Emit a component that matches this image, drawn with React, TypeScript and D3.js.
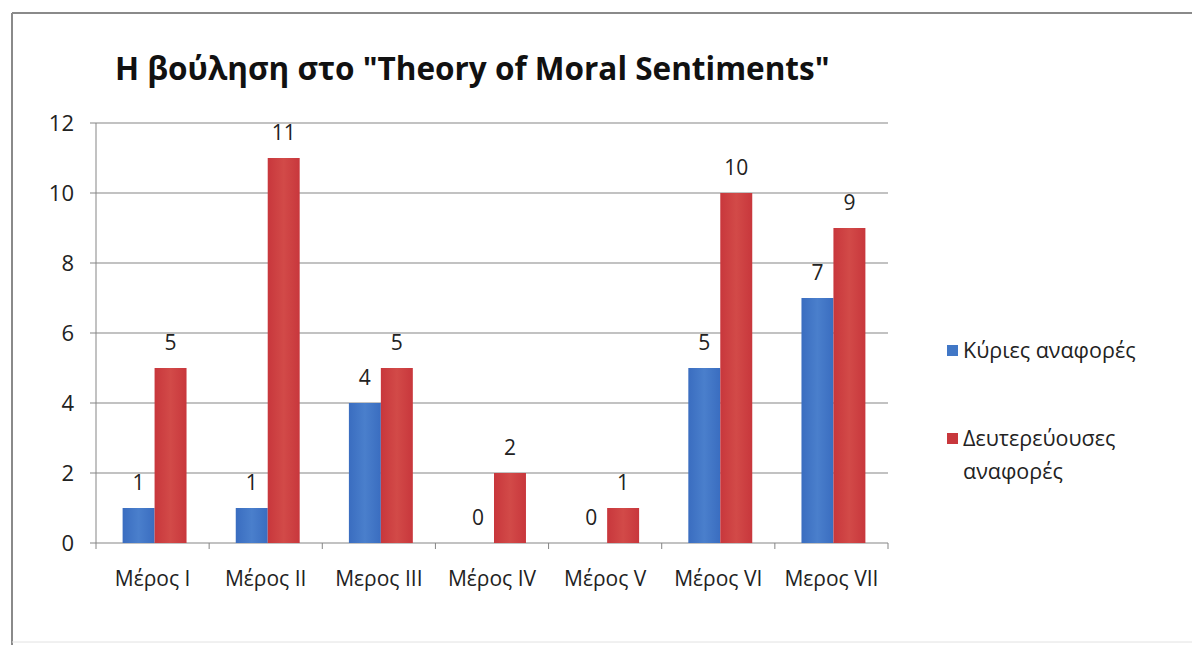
import React from "react";
import * as d3 from "d3";

const categories = ["Μέρος I", "Μέρος II", "Μερος III", "Μέρος IV", "Μέρος V", "Μέρος VI", "Μερος VII"];
const seriesNames = ["Κύριες αναφορές", "Δευτερεύουσες αναφορές"];
const primaryRefs = [1, 1, 4, 0, 0, 5, 7];
const secondaryRefs = [5, 11, 5, 2, 1, 10, 9];
const yTicks = [0, 2, 4, 6, 8, 10, 12];

const W = 1192;
const H = 645;
const plot = { left: 96, right: 888, top: 123, bottom: 543 };
const font = "'Open Sans', 'DejaVu Sans', sans-serif";

const App = () => {
  const x = d3.scaleBand().domain(categories).range([plot.left, plot.right]);
  const y = d3.scaleLinear().domain([0, 12]).range([plot.bottom, plot.top]);
  const inner = d3
    .scaleBand()
    .domain(["a", "b"])
    .range([2, x.bandwidth() + 2])
    .paddingInner(0)
    .paddingOuter(0.77);
  const bw = inner.bandwidth();

  const series = [
    { key: "a", values: primaryRefs, fill: "url(#gBlue)" },
    { key: "b", values: secondaryRefs, fill: "url(#gRed)" },
  ];

  return (
    <svg width={W} height={H} style={{ position: "absolute", left: 0, top: 0, background: "#fff" }}>
      <defs>
        <linearGradient id="gBlue" x1="0" x2="1" y1="0" y2="0">
          <stop offset="0" stopColor="#3a6dc0" />
          <stop offset="0.5" stopColor="#4a7fcc" />
          <stop offset="1" stopColor="#3a6dc0" />
        </linearGradient>
        <linearGradient id="gRed" x1="0" x2="1" y1="0" y2="0">
          <stop offset="0" stopColor="#c8373c" />
          <stop offset="0.5" stopColor="#d24a48" />
          <stop offset="1" stopColor="#c8373c" />
        </linearGradient>
      </defs>

      {/* chart frame */}
      <line x1={12} x2={W} y1={13} y2={13} stroke="#8a8a8a" strokeWidth={2} />
      <line x1={12} x2={12} y1={13} y2={H} stroke="#8a8a8a" strokeWidth={2} />
      <line x1={12} x2={W} y1={642} y2={642} stroke="#e2e2e2" strokeWidth={1} />

      <text x={115} y={80} fontFamily={font} fontWeight="bold" fontSize={31.5} fill="#111">
        Η βούληση στο "Theory of Moral Sentiments"
      </text>

      {/* gridlines and y axis */}
      {yTicks.map((t) => (
        <g key={t}>
          <line x1={plot.left - 6} x2={plot.right} y1={y(t)} y2={y(t)} stroke="#858585" strokeWidth={1} />
          <text x={74} y={y(t)} dy="0.36em" textAnchor="end" fontFamily={font} fontSize={22} fill="#222">
            {t}
          </text>
        </g>
      ))}
      <line x1={plot.left} x2={plot.left} y1={plot.top} y2={plot.bottom} stroke="#858585" />

      {/* x axis ticks and labels */}
      {categories.map((c) => (
        <g key={c}>
          <line
            x1={(x(c) as number) + x.bandwidth()}
            x2={(x(c) as number) + x.bandwidth()}
            y1={plot.bottom}
            y2={plot.bottom + 6}
            stroke="#858585"
          />
          <text
            x={(x(c) as number) + x.bandwidth() / 2}
            y={586}
            textAnchor="middle"
            fontFamily={font}
            fontSize={21}
            fill="#222"
          >
            {c}
          </text>
        </g>
      ))}
      <line x1={plot.left} x2={plot.left} y1={plot.bottom} y2={plot.bottom + 6} stroke="#858585" />

      {/* bars */}
      {series.map((s) =>
        s.values.map((v, i) => {
          const bx = (x(categories[i]) as number) + (inner(s.key) as number);
          return (
            <g key={s.key + i}>
              {v > 0 && <rect x={bx} y={y(v)} width={bw} height={y(0) - y(v)} fill={s.fill} />}
              <text
                x={bx + bw / 2}
                y={y(v) - 18}
                textAnchor="middle"
                fontFamily={font}
                fontSize={21}
                fill="#222"
              >
                {v}
              </text>
            </g>
          );
        })
      )}

      {/* legend */}
      <rect x={947} y={345} width={11} height={11} fill="#4177c6" />
      <text x={963} y={358} fontFamily={font} fontSize={21.5} fill="#222">
        {seriesNames[0]}
      </text>
      <rect x={947} y={433} width={11} height={11} fill="#c8373c" />
      <text x={963} y={446} fontFamily={font} fontSize={21.5} fill="#222">
        <tspan x={963}>Δευτερεύουσες</tspan>
        <tspan x={963} dy={33}>αναφορές</tspan>
      </text>
    </svg>
  );
};

export default App;
